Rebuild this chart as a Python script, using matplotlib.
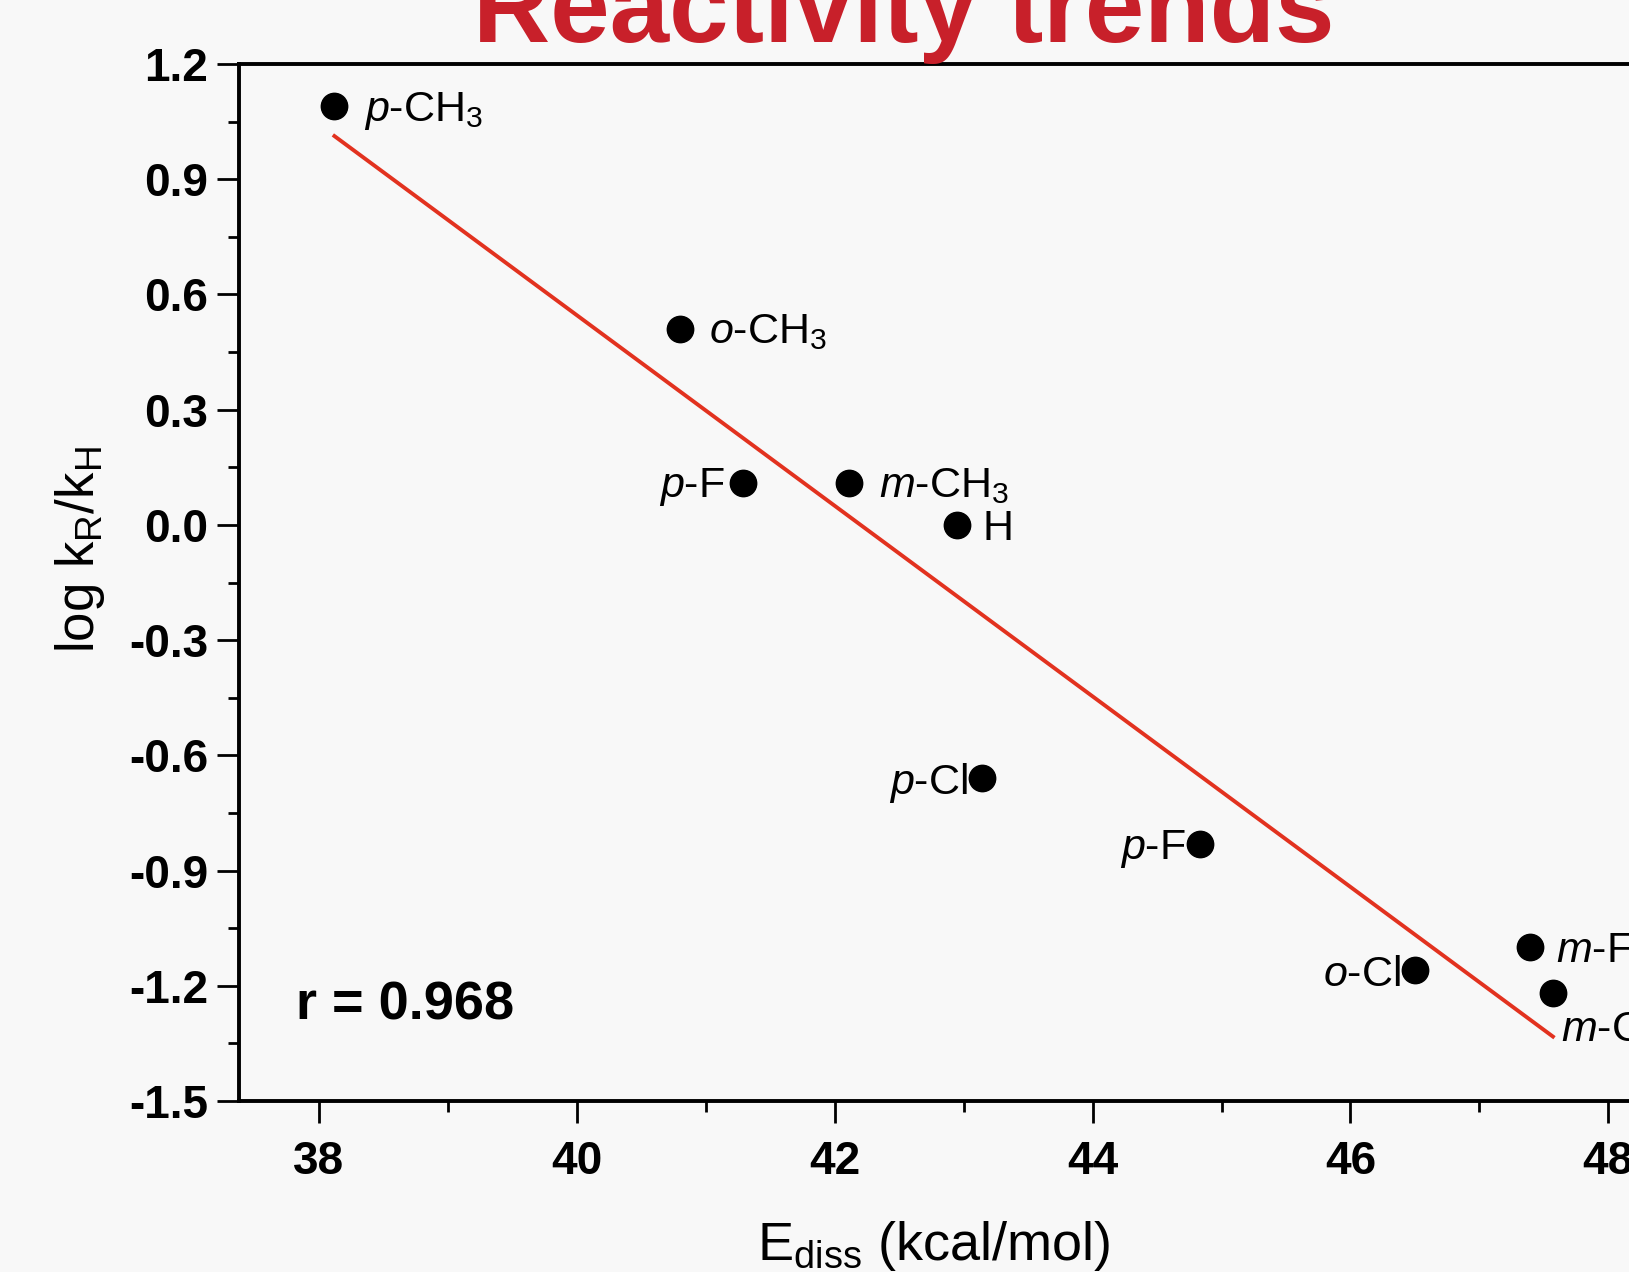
# Reactivity trends: log kR/kH vs E_diss

import matplotlib.pyplot as plt
import numpy as np

plt.rcParams['font.family'] = ['Liberation Sans', 'DejaVu Sans']
plt.rcParams['mathtext.fontset'] = 'custom'
plt.rcParams['mathtext.rm'] = 'Liberation Sans'
plt.rcParams['mathtext.it'] = 'Liberation Sans:italic'
plt.rcParams['mathtext.bf'] = 'Liberation Sans:bold'
plt.rcParams['mathtext.default'] = 'regular'

# Data
labels = [r'$\mathit{p}$-CH$_3$', r'$\mathit{o}$-CH$_3$', r'$\mathit{p}$-F',
          r'$\mathit{m}$-CH$_3$', 'H', r'$\mathit{p}$-Cl', r'$\mathit{p}$-F',
          r'$\mathit{o}$-Cl', r'$\mathit{m}$-F', r'$\mathit{m}$-Cl']
e_diss = [38.12, 40.80, 41.29, 42.11, 42.95, 43.14, 44.83, 46.50, 47.39, 47.57]
log_k = [1.09, 0.51, 0.11, 0.11, 0.0, -0.66, -0.83, -1.16, -1.10, -1.22]
r_value = 0.968

# Label placement (offset in points, alignment)
offsets = [(21, -10.5, 'left'), (21, -10.5, 'left'), (-13, -10.5, 'right'),
           (22, -10.5, 'left'), (18, -11, 'left'), (-10, -11, 'right'),
           (-10, -11, 'right'), (-10, -11, 'right'), (19, -10.5, 'left'),
           (6, -34, 'left')]

bg = '#f8f8f8'
fig = plt.figure(figsize=(16.29, 12.72), dpi=100, facecolor=bg)
ax = fig.add_axes([239 / 1629, 171 / 1272, 1390 / 1629, 1037 / 1272])
ax.set_facecolor(bg)

# Linear fit
k, b = np.polyfit(e_diss, log_k, 1)
xf = np.array([min(e_diss), max(e_diss)])
ax.plot(xf, k * xf + b, color='#e2321f', lw=2.8, zorder=2)

ax.plot(e_diss, log_k, 'o', color='black', ms=19, zorder=3)

for x, y, s, (dx, dy, ha) in zip(e_diss, log_k, labels, offsets):
    ax.annotate(s, (x, y), xytext=(dx, dy), textcoords='offset points',
                ha=ha, va='baseline', fontsize=31, annotation_clip=False)

ax.text((296 - 239) / 1390, (1101 - 1020) / 1037,
        'r = %.3f' % r_value, transform=ax.transAxes, fontsize=39,
        fontweight='bold', va='baseline', ha='left')

ax.set_xlim(37.38, 48.16)
ax.set_ylim(-1.5, 1.2)
ax.set_xticks(np.arange(38, 49, 2))
ax.set_xticks(np.arange(38, 49, 1), minor=True)
ax.set_yticks(np.arange(-1.5, 1.21, 0.3))
ax.set_yticks(np.arange(-1.5, 1.21, 0.15), minor=True)
ax.set_yticklabels(['%.1f' % v for v in np.arange(-1.5, 1.21, 0.3)])

for sp in ['left', 'bottom', 'top']:
    ax.spines[sp].set_linewidth(2.8)
ax.spines['right'].set_visible(False)

ax.tick_params(which='major', direction='out', length=16, width=2,
               labelsize=33, right=False, top=False)
ax.tick_params(which='minor', direction='out', length=8, width=2,
               right=False, top=False)
ax.tick_params(axis='x', which='major', pad=12)
ax.tick_params(axis='y', which='major', pad=6)
for t in ax.get_xticklabels() + ax.get_yticklabels():
    t.set_fontweight('bold')

ax.set_xlabel('E$_{diss}$ (kcal/mol)', fontsize=39)
ax.set_ylabel('log k$_R$/k$_H$', fontsize=38)
ax.xaxis.set_label_coords(0.5, -0.114)
ax.yaxis.set_label_coords(-0.095, 0.532)

# Title (cut off at the top of the picture)
fig.text(904 / 1629, 1 - 42 / 1272, 'Reactivity trends', color='#c8202a',
         fontsize=77, fontweight='bold', ha='center', va='baseline')

plt.savefig('out.png', dpi=100, facecolor=bg)
